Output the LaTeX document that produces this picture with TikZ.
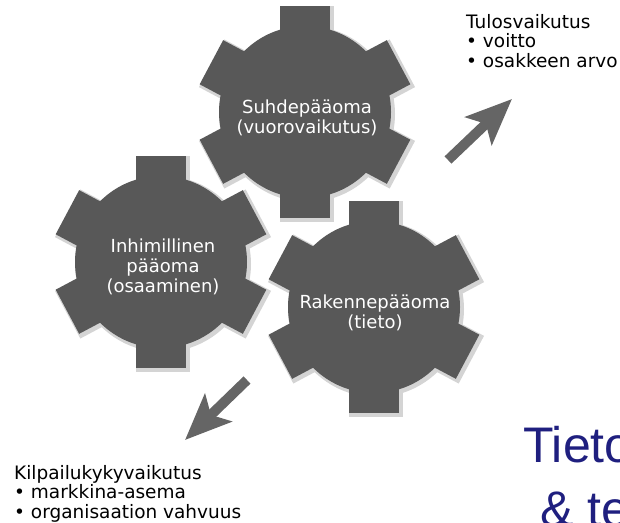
\documentclass[tikz,border=0pt]{standalone}
\usepackage{fontspec}
\setmainfont{DejaVu Sans}
\newfontfamily\titlefont{Liberation Sans}
\usetikzlibrary{arrows.meta}
\definecolor{cogfill}{HTML}{585858}
\definecolor{cogshade}{HTML}{D4D4D4}
\definecolor{arrowgray}{HTML}{656565}
\definecolor{titleblue}{HTML}{1F1F7F}

\begin{document}
\begin{tikzpicture}[
    x=1pt, y=1pt,
    cogtext/.style={text=white, align=center, inner sep=0pt,
        font=\fontsize{18}{20}\selectfont},
    effects/.style={align=left, inner sep=0pt, anchor=north west,
        font=\fontsize{18.5}{19.5}\selectfont},
    effectarrow/.style={arrowgray, line width=10pt,
        -{Stealth[length=46pt, width=38pt, inset=10pt]}},
    bigtitle/.style={text=titleblue, inner sep=0pt, anchor=base west,
        font=\titlefont\fontsize{50}{60}\selectfont}
]

\pgfmathsetmacro{\CogBody}{86}
\pgfmathsetmacro{\CogOuter}{106}
\pgfmathsetmacro{\CogHalf}{25}

\useasboundingbox (0,0) rectangle (620,522);

% Shadows of the cogs
\foreach \cx/\cy in {305/410, 161/260, 374/215} {
  \begin{scope}[shift={(\cx+2,\cy-2)}]
    \fill[cogshade] (0,0) circle (\CogBody+2);
    \foreach \a in {90, 28, -28, -90, 208, 152} {
      \fill[cogshade, rotate=\a] (0,-\CogHalf-2) rectangle (\CogOuter+2,\CogHalf+2);
    }
  \end{scope}
}

% Cogs
\foreach \cx/\cy in {305/410, 161/260, 374/215} {
  \begin{scope}[shift={(\cx,\cy)}]
    \fill[cogfill] (0,0) circle (\CogBody);
    \foreach \a in {90, 28, -28, -90, 208, 152} {
      \fill[cogfill, rotate=\a] (0,-\CogHalf) rectangle (\CogOuter,\CogHalf);
    }
  \end{scope}
}

% Cog labels
\node[cogtext] (suhde) at (307,404) {Suhdepääoma\\(vuorovaikutus)};
\node[cogtext] (inhim) at (163,255) {Inhimillinen\\pääoma\\(osaaminen)};
\node[cogtext] (rakenne) at (375,209) {Rakennepääoma\\(tieto)};

% Effects
\node[effects] (tulos) at (466,508) {Tulosvaikutus\\• voitto\\• osakkeen arvo};
\node[effects] (kilpailu) at (14,57) {Kilpailukykyvaikutus\\• markkina-asema\\• organisaation vahvuus};

\coordinate (tulosTail) at (448,362);
\coordinate (tulosTip) at (512,423);
\draw[effectarrow] (tulosTail) -- (tulosTip);

\coordinate (kilpTail) at (247,142);
\coordinate (kilpTip) at (185,82);
\draw[effectarrow] (kilpTail) -- (kilpTip);

% Title, cut by the edge
\begin{scope}
  \clip (0,0) rectangle (620,522);
  \node[bigtitle] (title1) at (523,60) {Tieto};
  \node[bigtitle] (title2) at (540,-4) {\& te};
\end{scope}

\end{tikzpicture}
\end{document}
